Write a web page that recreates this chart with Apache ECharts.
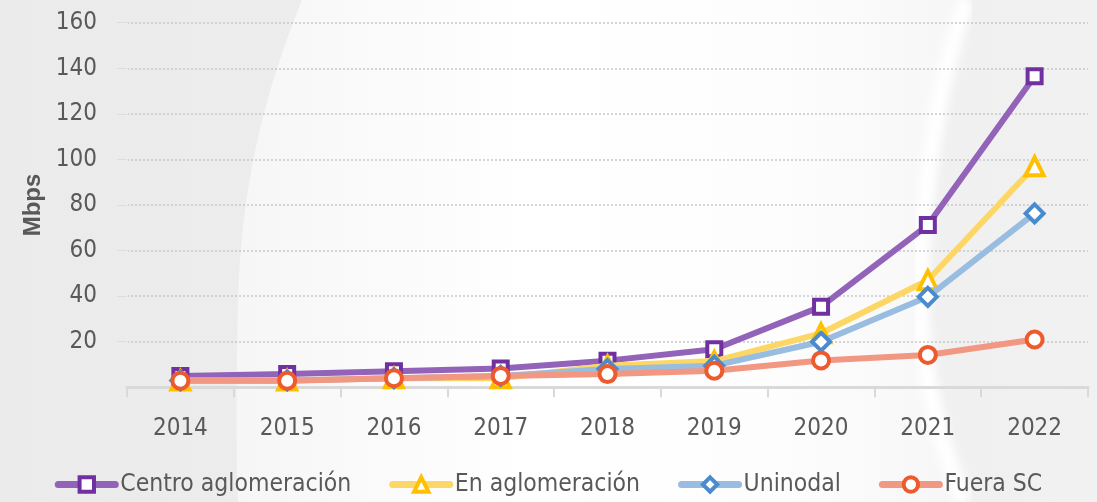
<!DOCTYPE html>
<html><head><meta charset="utf-8">
<script src="https://cdn.jsdelivr.net/npm/echarts@6/dist/echarts.min.js"></script>
<style>html,body{margin:0;padding:0;background:#eeeeee}
#wrap{position:relative;width:1097px;height:502px;overflow:hidden}
#bg{position:absolute;left:0;top:0}
#c{position:absolute;left:0;top:0;width:1097px;height:502px}</style>
</head><body><div id="wrap">
<svg id="bg" width="1097" height="502" xmlns="http://www.w3.org/2000/svg">
  <defs>
    <linearGradient id="g1" x1="0" y1="0" x2="1" y2="0">
      <stop offset="0" stop-color="#f6f6f6"/><stop offset="0.4" stop-color="#ffffff"/>
      <stop offset="0.75" stop-color="#fdfdfd"/><stop offset="1" stop-color="#f6f6f6"/>
    </linearGradient>
    <linearGradient id="g0" x1="0" y1="0" x2="1" y2="0">
      <stop offset="0" stop-color="#ebebeb"/><stop offset="1" stop-color="#f1f1f1"/>
    </linearGradient>
    <filter id="blur"><feGaussianBlur stdDeviation="5"/></filter>
  </defs>
  <rect width="1097" height="502" fill="url(#g0)"/>
  <path d="M302 0 C270 80 242 170 238 300 C236 400 236 460 238 502 L965 502 C930 420 915 330 922 250 C928 150 945 60 967 0 Z" fill="url(#g1)"/>
  <path d="M967 0 C945 60 928 150 922 250 C915 330 930 420 965 502" fill="none" stroke="#ffffff" stroke-width="16" filter="url(#blur)"/>
</svg>
<div id="c"></div></div>
<script>
const years = ['2014','2015','2016','2017','2018','2019','2020','2021','2022'];
const centroAglomeracion = [5.0, 5.8, 7.0, 8.3, 11.7, 16.7, 35.4, 71.2, 136.5];
const enAglomeracion = [3.0, 3.0, 4.0, 4.0, 9.5, 11.5, 23.7, 47.0, 97.0];
const uninodal = [3.0, 3.0, 4.0, 5.0, 8.0, 9.5, 20.0, 39.7, 76.3];
const fueraSC = [2.9, 2.9, 4.0, 5.0, 5.8, 7.3, 11.8, 14.2, 21.0];
const seriesNames = ['Centro aglomeración', 'En aglomeración', 'Uninodal', 'Fuera SC'];
const yMin = 0, yMax = 160, yStep = 20;
const yAxisName = 'Mbps';

const FONT = '"DejaVu Sans Condensed", "Liberation Sans", sans-serif';
const TXT = '#595959';

const styles = [
  {line: '#9263b8', sym: '#7030a0', symbol: 'rect', size: 14},
  {line: '#fdd766', sym: '#ffc000', symbol: 'triangle', size: 18},
  {line: '#98bde0', sym: '#4a8bcc', symbol: 'diamond', size: 18},
  {line: '#f29782', sym: '#ec5a2d', symbol: 'circle', size: 16}
];
const dataSets = [centroAglomeracion, enAglomeracion, uninodal, fueraSC];

const chart = echarts.init(document.getElementById('c'), null, {renderer: 'canvas'});
chart.setOption({
  backgroundColor: 'transparent',
  animation: false,
  grid: {left: 127, right: 9, top: 22.7, bottom: 114.7, containLabel: false},
  legend: {
    top: 467, left: 'center', itemWidth: 57, itemHeight: 18, itemGap: 38,
    textStyle: {fontFamily: FONT, fontSize: 24.5, color: TXT},
    lineStyle: {width: 7, cap: 'round'},
    itemStyle: {borderWidth: 4},
    data: seriesNames
  },
  xAxis: {
    type: 'category', data: years, boundaryGap: true,
    axisLine: {lineStyle: {color: '#d9d9d9', width: 3}},
    axisTick: {show: true, length: 10, lineStyle: {color: '#d9d9d9', width: 2}},
    axisLabel: {fontFamily: FONT, fontSize: 24, color: TXT, margin: 29},
    splitLine: {show: false}
  },
  yAxis: {
    type: 'value', min: yMin, max: yMax, interval: yStep,
    name: yAxisName, nameLocation: 'middle', nameGap: 80, nameRotate: 90,
    nameTextStyle: {fontFamily: '"Liberation Sans", sans-serif', fontWeight: 'bold', fontSize: 24, color: TXT},
    axisLine: {show: true, lineStyle: {color: '#ececec', width: 1}},
    axisTick: {show: true, length: 10, lineStyle: {color: '#dddddd', width: 1}},
    axisLabel: {fontFamily: FONT, fontSize: 24, color: TXT, margin: 30, showMinLabel: false},
    splitLine: {show: true, lineStyle: {color: '#c8c8c8', width: 1.5, type: [2, 2]}}
  },
  series: dataSets.map((d, i) => ({
    name: seriesNames[i], type: 'line', data: d,
    symbol: styles[i].symbol, symbolSize: styles[i].size, showAllSymbol: true,
    lineStyle: {color: styles[i].line, width: 6},
    itemStyle: {color: '#ffffff', borderColor: styles[i].sym, borderWidth: 4},
    z: 2 + i
  }))
});
</script></body></html>
